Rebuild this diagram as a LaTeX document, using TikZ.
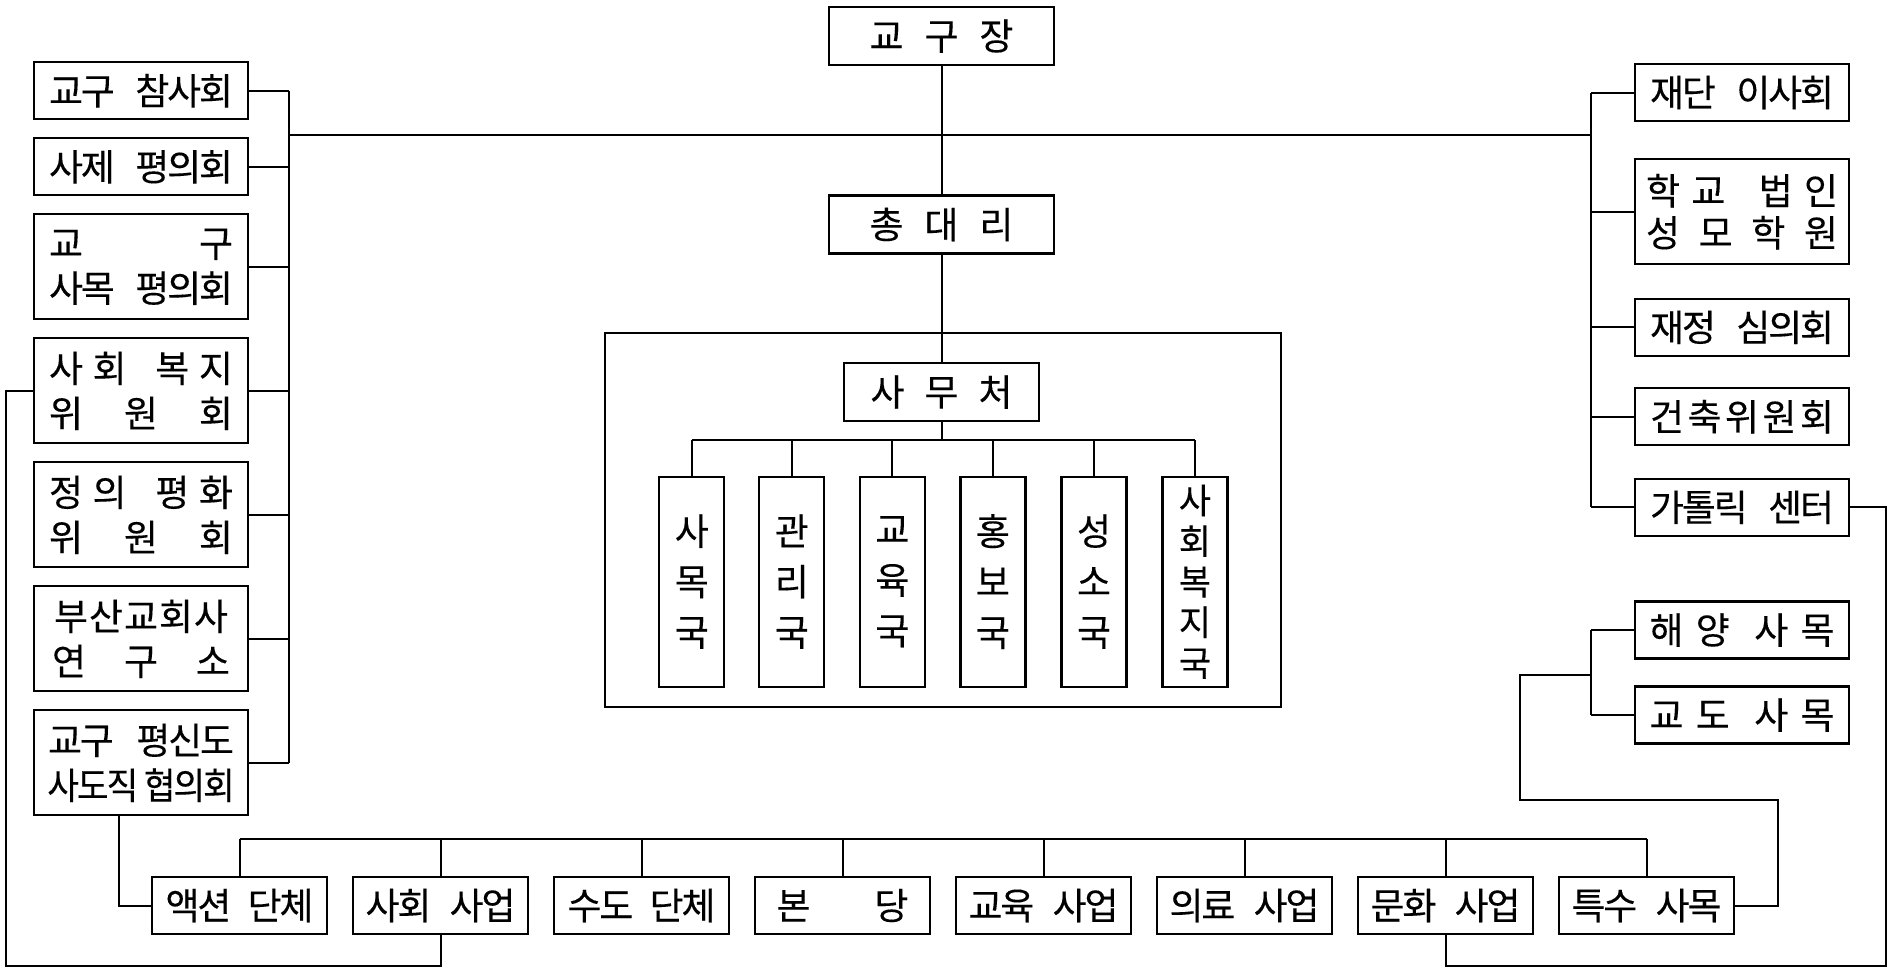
\documentclass[tikz,border=0pt]{standalone}
\usepackage{fontspec}
\usepackage{graphicx}
\newfontfamily\kf[LetterSpace=-6,FakeBold=0.2]{Noto Sans CJK KR}
\newcommand\jline[2]{\makebox[#1][s]{#2}}
\begin{document}
\begin{tikzpicture}[x=0.5pt,y=-0.5pt,
  box/.style={draw, line width=1.1pt, rectangle, inner sep=0pt, align=center,
    font=\kf\fontsize{18.5pt}{22.5pt}\selectfont},
  topbox/.style={box, minimum width=112.75pt, minimum height=29pt},
  lbox/.style={box, minimum width=107pt, minimum height=28.5pt},
  lboxii/.style={box, minimum width=107pt, minimum height=52.5pt},
  rboxii/.style={box, minimum width=107pt, minimum height=52.5pt,
    font=\kf\fontsize{18.5pt}{21pt}\selectfont},
  bbox/.style={box, minimum width=87.75pt, minimum height=28.5pt},
  dept/.style={box, minimum width=32.5pt, minimum height=105pt,
    font=\kf\fontsize{18.5pt}{25.25pt}\selectfont},
  frame/.style={draw, line width=1.1pt, rectangle, inner sep=0pt},
  wire/.style={line width=1pt}]
\fill[white] (0,0) rectangle (1895,976);
\useasboundingbox (0,0) rectangle (1895,976);

% top chain
\node[topbox] (gyo) at (941.5,36) {\jline{72pt}{교\hfil 구\hfil 장}};
\node[topbox] (chong) at (941.5,224.5) {\jline{72pt}{총\hfil 대\hfil 리}};
\node[frame, minimum width=337.7pt, minimum height=186.7pt] (office) at (943,520) {};
\node[box, minimum width=97.5pt, minimum height=28.7pt] (samu) at (941.5,392) {\jline{71pt}{사\hfil 무\hfil 처}};

% departments
\node[dept] (d1) at (691.8,581.7) {사\\목\\국};
\node[dept] (d2) at (791.8,581.7) {관\\리\\국};
\node[dept] (d3) at (892.4,581.7) {교\\육\\국};
\node[dept] (d4) at (992.9,581.7) {홍\\보\\국};
\node[dept] (d5) at (1094,581.7) {성\\소\\국};
\node[dept, font=\kf\fontsize{17.5pt}{20.3pt}\selectfont] (d6) at (1194.9,581.7) {사\\회\\복\\지\\국};

% left column
\node[lbox] (L1) at (141,90.8) {\jline{92pt}{교구 참사회}};
\node[lbox] (L2) at (141,166.8) {\jline{92pt}{사제 평의회}};
\node[lboxii] (L3) at (141,266.8) {\jline{92pt}{교\hfill 구}\\\jline{92pt}{사목 평의회}};
\node[lboxii] (L4) at (141,390.8) {\jline{92pt}{사\hfil 회\hfil\hfil\hfil 복\hfil 지}\\\jline{92pt}{위\hfil 원\hfil 회}};
\node[lboxii] (L5) at (141,514.8) {\jline{92pt}{정\hfil 의\hfil\hfil\hfil 평\hfil 화}\\\jline{92pt}{위\hfil 원\hfil 회}};
\node[lboxii] (L6) at (141,638.8) {\jline{87pt}{부\hfil 산\hfil 교\hfil 회\hfil 사}\\\jline{89pt}{연\hfil 구\hfil 소}};
\node[lboxii] (L7) at (141,762.8) {\jline{93pt}{교구 평신도}\\\scalebox{0.93}[1]{사도직 협의회}};

% right column
\node[lbox] (R1) at (1742,92.5) {\jline{92pt}{재단 이사회}};
\node[rboxii] (R2) at (1742,211.7) {\jline{96pt}{학\hfil 교\hfil\hfil\hfil 법\hfil 인}\\\jline{96pt}{성\hfil 모\hfil 학\hfil 원}};
\node[lbox] (R3) at (1742,327.3) {\jline{92pt}{재정 심의회}};
\node[lbox] (R4) at (1742,416.7) {\jline{92pt}{건\hfil 축\hfil 위\hfil 원\hfil 회}};
\node[lbox] (R5) at (1742,507.3) {\jline{92pt}{가톨릭 센터}};
\node[lbox] (R6) at (1742,630) {\jline{92.5pt}{해\hfil 양\hfil\hfil 사\hfil 목}};
\node[lbox] (R7) at (1742,715) {\jline{92.5pt}{교\hfil 도\hfil\hfil 사\hfil 목}};

% bottom row
\node[bbox] (B0) at (239.5,905.5) {\jline{74pt}{액션 단체}};
\node[bbox] (B1) at (440.5,905.5) {\jline{75pt}{사회 사업}};
\node[bbox] (B2) at (641.5,905.5) {\jline{74pt}{수도 단체}};
\node[bbox] (B3) at (842.5,905.5) {\jline{66pt}{본\hfill 당}};
\node[bbox] (B4) at (1043.5,905.5) {\jline{75pt}{교육 사업}};
\node[bbox] (B5) at (1244.5,905.5) {\jline{75pt}{의료 사업}};
\node[bbox] (B6) at (1445.5,905.5) {\jline{75pt}{문화 사업}};
\node[bbox] (B7) at (1646.5,905.5) {\jline{75pt}{특수 사목}};

% helper coordinates
\coordinate (lb) at (288.5,135);
\coordinate (rb) at (1590.7,135);
\coordinate (dbus) at (941.5,440);
\coordinate (bb) at (0,839);
\coordinate (lx) at (119,800);
\coordinate (ll) at (6,966);
\coordinate (rl) at (1885.5,966);
\coordinate (k1) at (1778,800);
\coordinate (k2) at (1520,675);
\coordinate (sj) at (1590.7,675);

% connectors top
\draw[wire] (gyo.south) -- (chong.north);
\draw[wire] (chong.south) -- (samu.north);
\draw[wire] (lb) -- (rb);
\draw[wire] (samu.south) -- (dbus);
\draw[wire] (d1.north |- dbus) -- (d6.north |- dbus);
\foreach \d in {d1,d2,d3,d4,d5,d6} \draw[wire] (\d.north) -- (\d.north |- dbus);

% left bus
\draw[wire] (L1.east -| lb) -- (L7.east -| lb);
\foreach \n in {L1,L2,L3,L4,L5,L6,L7} \draw[wire] (\n.east) -- (\n.east -| lb);

% right bus
\draw[wire] (R1.west -| rb) -- (R5.west -| rb);
\foreach \n in {R1,R2,R3,R4,R5} \draw[wire] (\n.west) -- (\n.west -| rb);
\draw[wire] (R6.west -| rb) -- (R7.west -| rb);
\foreach \n in {R6,R7} \draw[wire] (\n.west) -- (\n.west -| rb);

% bottom bus
\draw[wire] (B0.north |- bb) -- (B7.north |- bb);
\foreach \n in {B0,B1,B2,B3,B4,B5,B6,B7} \draw[wire] (\n.north) -- (\n.north |- bb);

% cross links
\draw[wire] (L7.south -| lx) |- (B0.west);
\draw[wire] (L4.west) -| (ll) -| (B1.south);
\draw[wire] (R5.east) -| (rl) -| (B6.south);
\draw[wire] (B7.east) -| (k1) -| (k2) -- (sj);
\end{tikzpicture}
\end{document}
